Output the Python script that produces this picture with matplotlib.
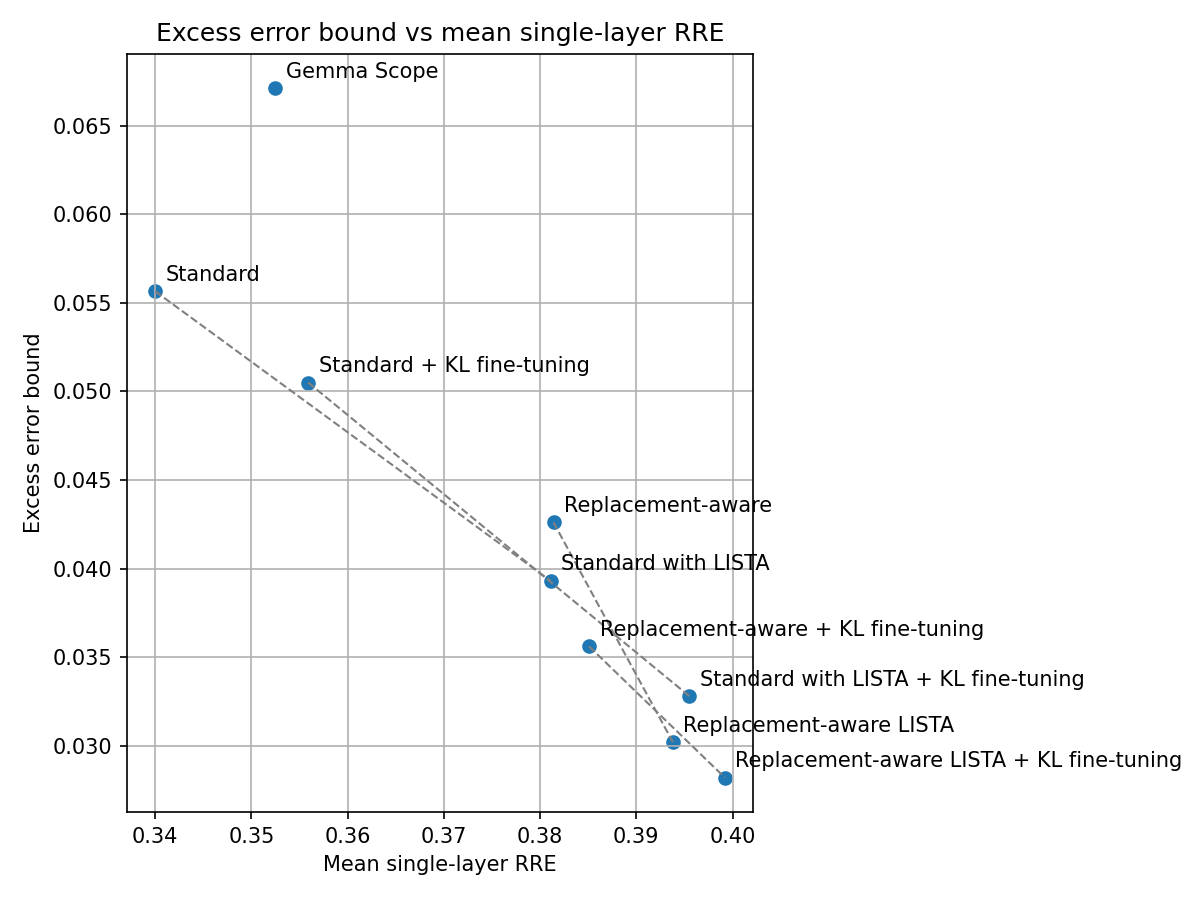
import matplotlib
matplotlib.use("Agg")
import matplotlib.pyplot as plt

labels = [
    "Gemma Scope",
    "Standard",
    "Standard + KL fine-tuning",
    "Replacement-aware",
    "Standard with LISTA",
    "Replacement-aware + KL fine-tuning",
    "Standard with LISTA + KL fine-tuning",
    "Replacement-aware LISTA",
    "Replacement-aware LISTA + KL fine-tuning",
]
mean_rre = [0.3525, 0.3400, 0.3559, 0.3814, 0.3811, 0.3851, 0.3955, 0.3938, 0.3992]
excess_bound = [0.0671, 0.05565, 0.0505, 0.0426, 0.0393, 0.0356, 0.0328, 0.0302, 0.0282]

# pairs connected by dashed lines (non-LISTA -> LISTA)
pairs = [
    ("Standard", "Standard with LISTA"),
    ("Standard + KL fine-tuning", "Standard with LISTA + KL fine-tuning"),
    ("Replacement-aware", "Replacement-aware LISTA"),
    ("Replacement-aware + KL fine-tuning", "Replacement-aware LISTA + KL fine-tuning"),
]

fig = plt.figure(figsize=(8, 6), dpi=150)
ax = fig.add_axes([126.7 / 1200, 88 / 900, (753.3 - 126.7) / 1200, (812 - 54) / 900])

ax.scatter(mean_rre, excess_bound)
for lab, x, y in zip(labels, mean_rre, excess_bound):
    ax.annotate(lab, (x, y), xytext=(5, 5), textcoords="offset points", fontsize=10)

idx = {l: i for i, l in enumerate(labels)}
for a, b in pairs:
    ia, ib = idx[a], idx[b]
    ax.plot([mean_rre[ia], mean_rre[ib]], [excess_bound[ia], excess_bound[ib]],
            linestyle="--", color="gray", linewidth=1)

ax.set_xlabel("Mean single-layer RRE")
ax.set_ylabel("Excess error bound")
ax.set_title("Excess error bound vs mean single-layer RRE")
ax.grid(True)

fig.savefig("out.png", dpi=150)
